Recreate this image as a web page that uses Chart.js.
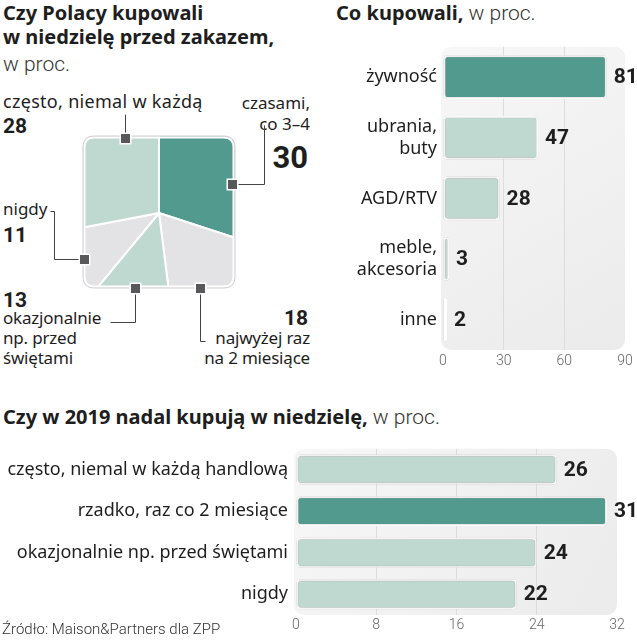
<!DOCTYPE html>
<html lang="pl">
<head>
<meta charset="utf-8">
<script src="https://cdn.jsdelivr.net/npm/chart.js@4.4.1/dist/chart.umd.min.js"></script>
<style>
  html, body { margin: 0; padding: 0; background: #fff; }
  body { width: 637px; height: 640px; position: relative; overflow: hidden; font-family: 'Noto Sans', Roboto, sans-serif; color: #1e1e1e; }
  .t { position: absolute; white-space: nowrap; }
  .title { font-weight: 700; font-size: 20px; line-height: 24px; }
  .light { font-family: Roboto, sans-serif; font-weight: 300; font-size: 21px; color: #333; }
  .lbl { font-size: 17px; line-height: 20px; }
  .num { font-family: Roboto, sans-serif; font-weight: 700; font-size: 21px; line-height: 24px; }
  .big { font-family: Roboto, sans-serif; font-weight: 700; font-size: 31px; line-height: 32px; }
  .src { font-family: Roboto, sans-serif; font-weight: 300; font-size: 15px; line-height: 18px; color: #333; }
  canvas { position: absolute; }
</style>
</head>
<body>

<div class="t title" style="left:3px; top:1px;">Czy Polacy kupowali<br>w niedzielę przed zakazem,</div>
<div class="t light" style="left:3px; top:52px;">w proc.</div>

<div class="t lbl" style="left:3px; top:91px; font-size:18px; letter-spacing:0.3px;">często, niemal w każdą</div>
<div class="t num" style="left:3px; top:114px;">28</div>
<div class="t lbl" style="right:327px; top:92px; text-align:right; line-height:21px;">czasami,<br>co 3–4</div>
<div class="t big" style="right:329px; top:142px;">30</div>
<div class="t lbl" style="left:3px; top:199px;">nigdy</div>
<div class="t num" style="left:3px; top:223px;">11</div>
<div class="t num" style="left:3px; top:288px;">13</div>
<div class="t lbl" style="left:3px; top:308px; letter-spacing:-0.2px;">okazjonalnie<br>np. przed<br>świętami</div>
<div class="t num" style="right:329px; top:306px;">18</div>
<div class="t lbl" style="right:327px; top:328px; text-align:right; letter-spacing:-0.2px;">najwyżej raz<br>na 2 miesiące</div>

<div class="t title" style="left:336px; top:1px;">Co kupowali,<span class="light"> w proc.</span></div>
<div class="t title" style="left:3px; top:405px;">Czy w 2019 nadal kupują w niedzielę,<span class="light"> w proc.</span></div>

<canvas id="pieChart" width="320" height="290" style="left:0; top:90px;"></canvas>
<canvas id="kupChart" width="317" height="345" style="left:320px; top:30px;"></canvas>
<canvas id="rokChart" width="637" height="210" style="left:0; top:430px;"></canvas>

<div class="t src" style="left:2px; top:620px;">Źródło: Maison&amp;Partners dla ZPP</div>

<script>
// Czy Polacy kupowali w niedzielę przed zakazem - od godz. 12, zgodnie z zegarem
const pieLabels = ['czasami, co 3–4', 'najwyżej raz na 2 miesiące', 'okazjonalnie np. przed świętami', 'nigdy', 'często, niemal w każdą'];
const pieValues = [30, 18, 13, 11, 28];

// Co kupowali
const kupLabels = ['żywność', ['ubrania,', 'buty'], 'AGD/RTV', ['meble,', 'akcesoria'], 'inne'];
const kupValues = [81, 47, 28, 3, 2];
const kupTicks = [0, 30, 60, 90];

// Czy w 2019 nadal kupują w niedzielę
const rokLabels = ['często, niemal w każdą handlową', 'rzadko, raz co 2 miesiące', 'okazjonalnie np. przed świętami', 'nigdy'];
const rokValues = [26, 31, 24, 22];
const rokTicks = [0, 8, 16, 24, 32];

const DARK = '#519a8d';
const LIGHT = '#bfd9d1';
const GREY = '#e3e3e6';
const FONT = "'Noto Sans', Roboto, sans-serif";
const NUM_FONT = "Roboto, sans-serif";
const PIE_COLORS = [DARK, GREY, LIGHT, GREY, LIGHT];

function roundRectPath(ctx, x, y, w, h, r) {
    ctx.beginPath();
    ctx.moveTo(x + r, y);
    ctx.lineTo(x + w - r, y);
    ctx.quadraticCurveTo(x + w, y, x + w, y + r);
    ctx.lineTo(x + w, y + h - r);
    ctx.quadraticCurveTo(x + w, y + h, x + w - r, y + h);
    ctx.lineTo(x + r, y + h);
    ctx.quadraticCurveTo(x, y + h, x, y + h - r);
    ctx.lineTo(x, y + r);
    ctx.quadraticCurveTo(x, y, x + r, y);
    ctx.closePath();
}

// Kwadrat, w który przycinamy wykres kołowy
function squareOf(chart) {
    const arc = chart.getDatasetMeta(0).data[0];
    const half = 75.5;
    return { x: arc.x - half, y: arc.y - half - 1, s: half * 2 };
}

const squareClip = {
    id: 'squareClip',
    beforeDatasetsDraw(chart) {
        const ctx = chart.ctx;
        const sq = squareOf(chart);
        ctx.save();
        roundRectPath(ctx, sq.x, sq.y, sq.s, sq.s, 11);
        ctx.clip();
    },
    afterDatasetsDraw(chart) {
        const ctx = chart.ctx;
        const sq = squareOf(chart);
        ctx.restore();

        // obrys kwadratu
        ctx.save();
        ctx.lineWidth = 2;
        ctx.strokeStyle = '#fff';
        roundRectPath(ctx, sq.x + 1, sq.y + 1, sq.s - 2, sq.s - 2, 10);
        ctx.stroke();
        ctx.lineWidth = 1;
        ctx.strokeStyle = '#cfcfcf';
        roundRectPath(ctx, sq.x - 0.5, sq.y - 0.5, sq.s + 1, sq.s + 1, 11);
        ctx.stroke();

        // linie odnośników
        const L = sq.x, T = sq.y, R = sq.x + sq.s, B = sq.y + sq.s;
        const leaders = [
            [[L + 41, T + 1], [L + 41, T - 23]],
            [[R - 3, T + 47], [R + 29, T + 47], [R + 29, T - 12]],
            [[L, T + 122], [L - 30, T + 122], [L - 30, T + 74], [L - 34, T + 74]],
            [[L + 51, B], [L + 51, B + 34], [L + 26, B + 34]],
            [[L + 116, B], [L + 116, B + 53], [L + 121, B + 53]]
        ];
        ctx.strokeStyle = '#444';
        ctx.lineWidth = 1;
        leaders.forEach(pts => {
            ctx.beginPath();
            pts.forEach((p, i) => {
                const x = Math.round(p[0]) + 0.5, y = Math.round(p[1]) + 0.5;
                if (i === 0) ctx.moveTo(x, y); else ctx.lineTo(x, y);
            });
            ctx.stroke();
        });
        leaders.forEach(pts => {
            const x = Math.round(pts[0][0]), y = Math.round(pts[0][1]);
            ctx.fillStyle = '#fff';
            ctx.fillRect(x - 5.5, y - 5.5, 12, 12);
            ctx.fillStyle = '#58585a';
            ctx.fillRect(x - 4, y - 4, 9, 9);
        });
        ctx.restore();
    }
};

new Chart(document.getElementById('pieChart'), {
    type: 'pie',
    data: {
        labels: pieLabels,
        datasets: [{
            data: pieValues,
            backgroundColor: PIE_COLORS,
            borderColor: '#fff',
            borderWidth: 2
        }]
    },
    options: {
        responsive: false,
        animation: false,
        rotation: 0,
        layout: { padding: { left: 44, right: 46, top: 8, bottom: 52 } },
        plugins: { legend: { display: false }, tooltip: { enabled: false } }
    },
    plugins: [squareClip]
});

// Tło obszaru wykresu, cień słupków i wartości
const plotBg = {
    id: 'plotBg',
    beforeDraw(chart) {
        const { ctx, chartArea: a } = chart;
        const g = ctx.createLinearGradient(a.left, a.top, a.right, a.bottom);
        g.addColorStop(0, '#f7f7f7');
        g.addColorStop(1, '#ebebeb');
        ctx.save();
        ctx.fillStyle = g;
        roundRectPath(ctx, a.left - 2, a.top, a.right - a.left + 2, a.bottom - a.top, 12);
        ctx.fill();
        ctx.restore();
    },
    beforeDatasetDraw(chart) {
        const ctx = chart.ctx;
        ctx.save();
        ctx.shadowColor = 'rgba(0, 0, 0, 0.35)';
        ctx.shadowBlur = 2;
    },
    afterDatasetDraw(chart) {
        chart.ctx.restore();
    },
    afterDatasetsDraw(chart) {
        const ctx = chart.ctx;
        const values = chart.data.datasets[0].data;
        ctx.save();
        ctx.font = 'bold 21px ' + NUM_FONT;
        ctx.fillStyle = '#1e1e1e';
        ctx.textBaseline = 'middle';
        chart.getDatasetMeta(0).data.forEach((bar, i) => {
            ctx.fillText(values[i], bar.x + 7, bar.y + 1);
        });
        ctx.restore();
    }
};

function barChart(id, labels, values, ticks, axisWidth, padding, labelPad, tickPad, lineHeight) {
    const maxVal = Math.max(...values);
    return new Chart(document.getElementById(id), {
        type: 'bar',
        data: {
            labels: labels,
            datasets: [{
                data: values,
                backgroundColor: ctx => ctx.raw === maxVal ? DARK : LIGHT,
                borderColor: '#fff',
                borderWidth: 2,
                borderRadius: 4,
                borderSkipped: false,
                categoryPercentage: 1,
                barPercentage: 0.72
            }]
        },
        options: {
            indexAxis: 'y',
            responsive: false,
            animation: false,
            layout: { padding: padding },
            plugins: { legend: { display: false }, tooltip: { enabled: false } },
            scales: {
                x: {
                    min: ticks[0],
                    max: ticks[ticks.length - 1],
                    afterBuildTicks: s => { s.ticks = ticks.map(v => ({ value: v })); },
                    afterFit: s => { s.height = 25; },
                    border: { display: false },
                    grid: {
                        drawTicks: false,
                        color: c => (c.tick.value === ticks[0] || c.tick.value === ticks[ticks.length - 1]) ? 'rgba(0,0,0,0)' : '#dcdcdc'
                    },
                    ticks: {
                        padding: tickPad,
                        color: '#666',
                        font: { family: NUM_FONT, size: 14, weight: 300 }
                    }
                },
                y: {
                    afterFit: s => { s.width = axisWidth; },
                    border: { display: false },
                    grid: { display: false, drawTicks: false },
                    ticks: {
                        padding: labelPad,
                        color: '#1e1e1e',
                        font: { family: FONT, size: 18, lineHeight: lineHeight }
                    }
                }
            }
        },
        plugins: [plotBg]
    });
}

barChart('kupChart', kupLabels, kupValues, kupTicks, 123, { top: 13, right: 12, bottom: 0, left: 0 }, 6, 3, 1.2);
barChart('rokChart', rokLabels, rokValues, rokTicks, 296, { top: 17, right: 20, bottom: 0, left: 0 }, 8, 2, 1.2);
</script>
</body>
</html>
